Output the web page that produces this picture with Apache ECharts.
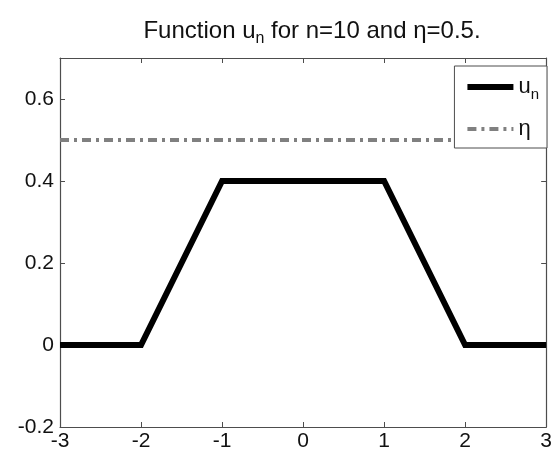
<!DOCTYPE html>
<html>
<head>
<meta charset="utf-8">
<script src="https://cdn.jsdelivr.net/npm/echarts@6/dist/echarts.min.js"></script>
<style>
  html, body { margin: 0; padding: 0; background: #fff; }
  #chart { width: 555px; height: 456px; }
</style>
</head>
<body>
<div id="chart"></div>
<script>
// values
const xBreaks = [-3, -2, -1, 1, 2, 3];
const uValues = [0, 0, 0.4, 0.4, 0, 0];
const etaX = [-3, 3];
const etaValue = 0.5;
const xTicks = [-3, -2, -1, 0, 1, 2, 3];
const yTicks = [-0.2, 0, 0.2, 0.4, 0.6];

const chart = echarts.init(document.getElementById('chart'));

const font = 'Liberation Sans, Arial, sans-serif';
const axisColor = '#4d4d4d';
const etaDash = [9, 5, 3, 5];

let uData = xBreaks.map((x, i) => [x, uValues[i]]);
let etaData = etaX.map(x => [x, etaValue]);

let tickStyle = {show: true, inside: true, length: 5, lineStyle: {color: axisColor}};
let lineStyleAxis = {show: true, onZero: false, lineStyle: {color: axisColor, width: 1.2}};

let option = {
    animation: false,
    title: {
        text: 'Function u{s|n} for n=10 and η=0.5.',
        left: 307,
        textAlign: 'center',
        top: 10,
        textStyle: {
            fontFamily: font,
            fontSize: 24,
            fontWeight: 'normal',
            color: '#111',
            rich: {
                s: {fontFamily: font, fontSize: 16, color: '#111', padding: [16, 0, 0, 0]}
            }
        }
    },
    legend: {
        right: 8,
        top: 66,
        orient: 'vertical',
        backgroundColor: '#fff',
        borderColor: axisColor,
        borderWidth: 1,
        borderRadius: 0,
        padding: [10, 8, 8, 10],
        itemWidth: 46,
        itemHeight: 14,
        itemGap: 16,
        itemStyle: {opacity: 0},
        data: [
            {name: 'u_n', lineStyle: {color: '#000', width: 6}},
            {name: 'eta', lineStyle: {color: '#808080', width: 4, type: etaDash}}
        ],
        formatter: name => name === 'u_n' ? '{a|u}{s|n}' : '{a|η}',
        textStyle: {
            fontFamily: font,
            color: '#111',
            rich: {
                a: {fontFamily: font, fontSize: 22, color: '#111'},
                s: {fontFamily: font, fontSize: 15, color: '#111', padding: [15, 0, 0, 0]}
            }
        }
    },
    grid: {left: 60, right: 3, top: 58, bottom: 29},
    xAxis: [{
        type: 'value',
        min: xTicks[0],
        max: xTicks[xTicks.length - 1],
        interval: 1,
        axisLine: lineStyleAxis,
        axisTick: tickStyle,
        splitLine: {show: false},
        axisLabel: {fontFamily: font, fontSize: 21, color: '#111', margin: 4}
    }, {
        type: 'value',
        position: 'top',
        min: xTicks[0],
        max: xTicks[xTicks.length - 1],
        interval: 1,
        axisLine: lineStyleAxis,
        axisTick: tickStyle,
        splitLine: {show: false},
        axisLabel: {show: false}
    }],
    yAxis: [{
        type: 'value',
        min: yTicks[0],
        max: 0.7,
        interval: 0.2,
        axisLine: lineStyleAxis,
        axisTick: tickStyle,
        splitLine: {show: false},
        axisLabel: {
            fontFamily: font, fontSize: 21, color: '#111', margin: 6,
            formatter: v => yTicks.some(t => Math.abs(t - v) < 1e-9) ? String(Math.round(v * 10) / 10) : ''
        }
    }, {
        type: 'value',
        position: 'right',
        min: yTicks[0],
        max: 0.7,
        interval: 0.2,
        axisLine: lineStyleAxis,
        axisTick: tickStyle,
        splitLine: {show: false},
        axisLabel: {show: false}
    }],
    series: [{
        name: 'u_n',
        type: 'line',
        data: uData,
        symbol: 'none',
        color: '#000',
        lineStyle: {color: '#000', width: 6, join: 'miter'}
    }, {
        name: 'eta',
        type: 'line',
        data: etaData,
        symbol: 'none',
        color: '#808080',
        lineStyle: {color: '#808080', width: 4, type: etaDash}
    }]
};

chart.setOption(option);
</script>
</body>
</html>
